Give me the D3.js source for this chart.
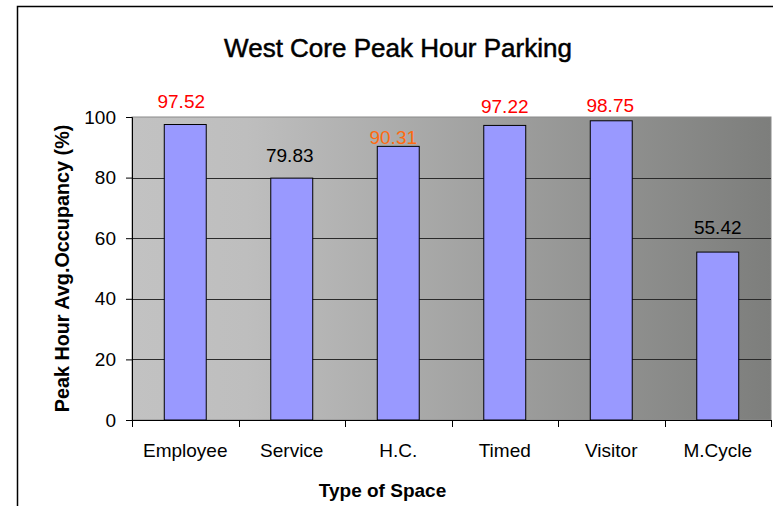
<!DOCTYPE html>
<html>
<head>
<meta charset="utf-8">
<script src="https://cdn.jsdelivr.net/npm/d3@7"></script>
<style>
  body { margin: 0; background: #fff; }
  text { font-family: Arial, "Liberation Sans", sans-serif; }
</style>
</head>
<body>
<div id="chart"></div>
<script>
// Chart data
var categories = ["Employee", "Service", "H.C.", "Timed", "Visitor", "M.Cycle"];
var occupancy = [97.52, 79.83, 90.31, 97.22, 98.75, 55.42];
var yTicks = [0, 20, 40, 60, 80, 100];

// SVG area
var svgWidth = 773;
var svgHeight = 506;

var margin = {
  top: 117,
  right: 2,
  bottom: 86,
  left: 132
};

var width = svgWidth - margin.left - margin.right;
var height = svgHeight - margin.top - margin.bottom;

var svg = d3.select("#chart")
  .append("svg")
  .attr("width", svgWidth)
  .attr("height", svgHeight);

// outer chart border (runs off the right / bottom of the picture)
svg.append("rect")
  .attr("x", 17.5)
  .attr("y", 6.5)
  .attr("width", 800)
  .attr("height", 600)
  .attr("fill", "#fff")
  .attr("stroke", "#000")
  .attr("stroke-width", 1.5);

// plot background gradient
var grad = svg.append("defs").append("linearGradient")
  .attr("id", "bg")
  .attr("x1", "0%").attr("x2", "100%")
  .attr("y1", "0%").attr("y2", "0%");
grad.append("stop").attr("offset", "0%").attr("stop-color", "#c2c2c2");
grad.append("stop").attr("offset", "18%").attr("stop-color", "#bebebe");
grad.append("stop").attr("offset", "100%").attr("stop-color", "#7d7e7c");

var chartGroup = svg.append("g")
  .attr("transform", `translate(${margin.left}, ${margin.top})`);

// scales
var xBand = d3.scaleBand()
  .domain(categories)
  .range([0, width])
  .padding(0);

var yLinearScale = d3.scaleLinear()
  .domain([0, 100])
  .range([height, 0]);

chartGroup.append("rect")
  .attr("width", width)
  .attr("height", height)
  .attr("fill", "url(#bg)")
  .attr("stroke", "#8a8a8a")
  .attr("stroke-width", 1);

// horizontal gridlines
chartGroup.selectAll(".grid")
  .data(yTicks.filter(t => t > 0 && t < 100))
  .enter()
  .append("line")
  .attr("class", "grid")
  .attr("x1", 0)
  .attr("x2", width)
  .attr("y1", d => Math.round(yLinearScale(d)) + 0.5)
  .attr("y2", d => Math.round(yLinearScale(d)) + 0.5)
  .attr("stroke", "#2a2a2a")
  .attr("stroke-width", 1);

// bars
var barFrac = 0.394;
chartGroup.selectAll(".bar")
  .data(occupancy)
  .enter()
  .append("rect")
  .attr("class", "bar")
  .attr("x", (d, i) => xBand(categories[i]) + xBand.bandwidth() * (1 - barFrac) / 2)
  .attr("y", d => yLinearScale(d))
  .attr("width", xBand.bandwidth() * barFrac)
  .attr("height", d => height - yLinearScale(d))
  .attr("fill", "#9999ff")
  .attr("stroke", "#000")
  .attr("stroke-width", 1);

// y axis
var laxis = d3.axisLeft(yLinearScale)
  .tickValues(yTicks)
  .tickSize(6)
  .tickPadding(10)
  .tickFormat(d3.format("d"));

var yAxisG = chartGroup.append("g").call(laxis);
yAxisG.select(".domain").attr("stroke", "#000");
yAxisG.selectAll(".tick line").attr("stroke", "#000");
yAxisG.selectAll(".tick text")
  .attr("font-size", "19px")
  .attr("font-family", "Arial, 'Liberation Sans', sans-serif")
  .attr("fill", "#000");

// x axis: tick marks on the category edges, labels in the middle
var xAxisG = chartGroup.append("g")
  .attr("transform", `translate(0, ${height})`);

xAxisG.append("line")
  .attr("x1", 0).attr("x2", width)
  .attr("y1", 0.5).attr("y2", 0.5)
  .attr("stroke", "#000");

var edges = categories.map(c => xBand(c)).concat([width]);
xAxisG.selectAll(".edge")
  .data(edges)
  .enter()
  .append("line")
  .attr("class", "edge")
  .attr("x1", d => Math.round(d) + 0.5)
  .attr("x2", d => Math.round(d) + 0.5)
  .attr("y1", 0)
  .attr("y2", 7)
  .attr("stroke", "#000");

xAxisG.selectAll(".cat")
  .data(categories)
  .enter()
  .append("text")
  .attr("class", "cat")
  .attr("x", d => xBand(d) + xBand.bandwidth() / 2)
  .attr("y", 37)
  .attr("text-anchor", "middle")
  .attr("font-size", "19px")
  .attr("fill", "#000")
  .text(d => d);

// value labels (colour by occupancy level, small manual nudges as in the original)
var labelNudge = [[-4, 16.5], [-2, 16.5], [-5, 2.5], [0, 12.5], [-1, 9], [0, 18]];
function labelColor(v) {
  if (v >= 95) return "#ff0000";
  if (v >= 85) return "#ff6a10";
  return "#000";
}

chartGroup.selectAll(".val")
  .data(occupancy)
  .enter()
  .append("text")
  .attr("class", "val")
  .attr("x", (d, i) => xBand(categories[i]) + xBand.bandwidth() / 2 + labelNudge[i][0])
  .attr("y", (d, i) => yLinearScale(d) - labelNudge[i][1])
  .attr("text-anchor", "middle")
  .attr("font-size", "19px")
  .attr("fill", d => labelColor(d))
  .text(d => d3.format(".2f")(d));

// titles
svg.append("text")
  .attr("x", 398)
  .attr("y", 57)
  .attr("text-anchor", "middle")
  .attr("font-size", "26px")
  .attr("fill", "#000")
  .attr("stroke", "#000")
  .attr("stroke-width", 0.5)
  .text("West Core Peak Hour Parking");

svg.append("text")
  .attr("x", 382.5)
  .attr("y", 497)
  .attr("text-anchor", "middle")
  .attr("font-size", "19px")
  .attr("font-weight", "bold")
  .attr("fill", "#000")
  .text("Type of Space");

svg.append("text")
  .attr("transform", `translate(69, ${margin.top + height / 2}) rotate(-90)`)
  .attr("text-anchor", "middle")
  .attr("font-size", "19.8px")
  .attr("font-weight", "bold")
  .attr("fill", "#000")
  .text("Peak Hour Avg.Occupancy (%)");
</script>
</body>
</html>
